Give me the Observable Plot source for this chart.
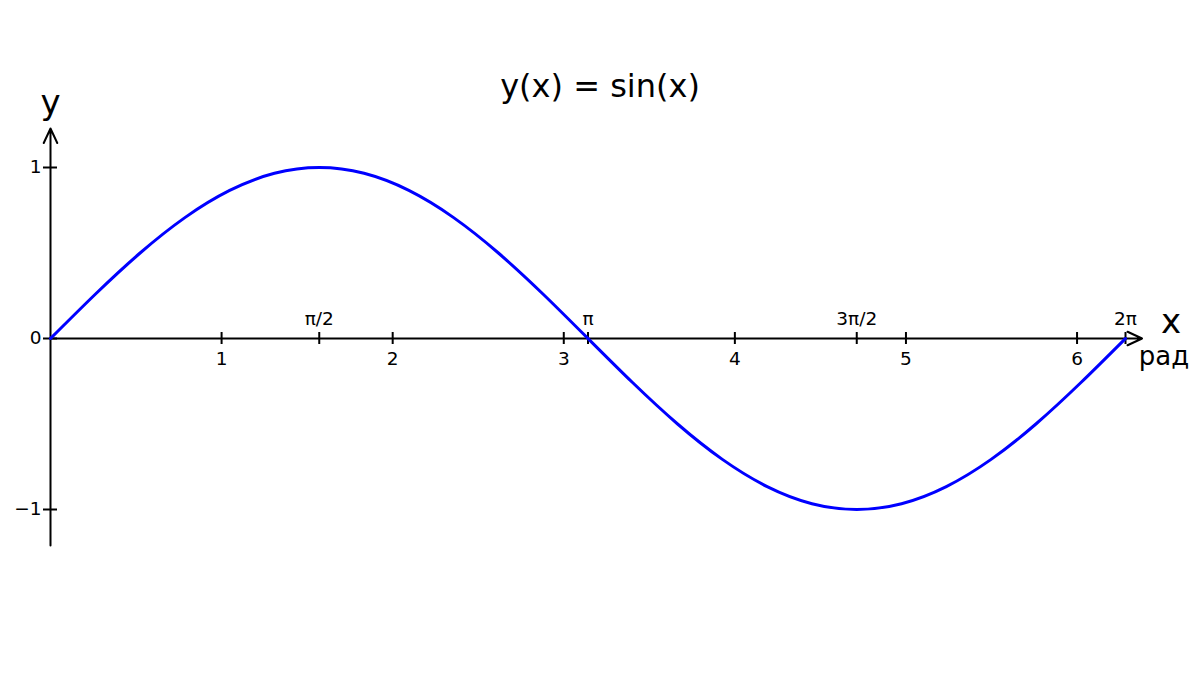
<!DOCTYPE html>
<html>
<head>
<meta charset="utf-8">
<script src="https://cdn.jsdelivr.net/npm/d3@7"></script>
<script src="https://cdn.jsdelivr.net/npm/@observablehq/plot@0.6"></script>
<style>
html,body{margin:0;padding:0;background:#fff;}
</style>
</head>
<body>
<div id="chart"></div>
<script>
const PI = Math.PI;
// curve samples (x in rad, y), step π/12
const curveX = [0, PI/12, PI/6, PI/4, PI/3, 5*PI/12, PI/2, 7*PI/12, 2*PI/3, 3*PI/4, 5*PI/6, 11*PI/12, PI,
  13*PI/12, 7*PI/6, 5*PI/4, 4*PI/3, 17*PI/12, 3*PI/2, 19*PI/12, 5*PI/3, 7*PI/4, 11*PI/6, 23*PI/12, 2*PI];
const curveY = [0, 0.259, 0.5, 0.707, 0.866, 0.966, 1, 0.966, 0.866, 0.707, 0.5, 0.259, 0,
  -0.259, -0.5, -0.707, -0.866, -0.966, -1, -0.966, -0.866, -0.707, -0.5, -0.259, 0];
const curve = curveX.map((x, i) => ({x, y: curveY[i]}));

const numTicks = [1, 2, 3, 4, 5, 6];
const numLabels = ["1", "2", "3", "4", "5", "6"];
const piTicks = [PI/2, PI, 3*PI/2, 2*PI];
const piLabels = ["π/2", "π", "3π/2", "2π"];
const yTicks = [1, 0, -1];
const yLabels = ["1", "0", "−1"];

const font = "DejaVu Sans, sans-serif";

const chart = Plot.plot({
  width: 1200,
  height: 676,
  marginLeft: 50,
  marginRight: 75,
  marginTop: 167,
  marginBottom: 167,
  style: {fontFamily: font, background: "#fff"},
  x: {domain: [0, 2*PI], axis: null},
  y: {domain: [-1, 1], axis: null},
  marks: [
    // axes with arrows
    Plot.arrow([0], {x1: 0, x2: 6.38, y1: 0, y2: 0, stroke: "#000", strokeWidth: 2, headLength: 12, headAngle: 50}),
    Plot.arrow([0], {x1: 0, x2: 0, y1: -1.21, y2: 1.228, stroke: "#000", strokeWidth: 2, headLength: 12, headAngle: 50}),
    // x ticks
    Plot.ruleX(numTicks, {x: d => d, y1: -0.035, y2: 0.035, stroke: "#000", strokeWidth: 2}),
    Plot.ruleX(piTicks, {x: d => d, y1: -0.035, y2: 0.035, stroke: "#000", strokeWidth: 2}),
    Plot.text(numTicks, {x: d => d, y: 0, text: (d, i) => numLabels[i], dy: 21, fontSize: 18.5, fill: "#000"}),
    Plot.text(piTicks, {x: d => d, y: 0, text: (d, i) => piLabels[i], dy: -19, fontSize: 18.5, fill: "#000"}),
    // y ticks
    Plot.ruleY(yTicks, {y: d => d, x1: -0.041, x2: 0.041, stroke: "#000", strokeWidth: 2}),
    Plot.text(yTicks, {y: d => d, x: 0, text: (d, i) => yLabels[i], dx: -9, textAnchor: "end", fontSize: 18.5, fill: "#000"}),
    // curve
    Plot.line(curve, {x: "x", y: "y", curve: "natural", stroke: "#0000ff", strokeWidth: 3}),
    // axis labels
    Plot.text(["y"], {x: 0, y: 1.228, text: d => d, dy: -25, fontSize: 34, fill: "#000"}),
    Plot.text(["x"], {x: 6.38, y: 0, text: d => d, dx: 29, dy: -16, fontSize: 34, fill: "#000"}),
    Plot.text(["рад"], {x: 6.38, y: 0, text: d => d, dx: 22, dy: 18, fontSize: 26, fill: "#000"}),
    // title
    Plot.text(["y(x) = sin(x)"], {frameAnchor: "top", text: d => d, dx: 12, dy: -93, fontSize: 32, fill: "#000"})
  ]
});
document.getElementById("chart").appendChild(chart);
</script>
</body>
</html>
